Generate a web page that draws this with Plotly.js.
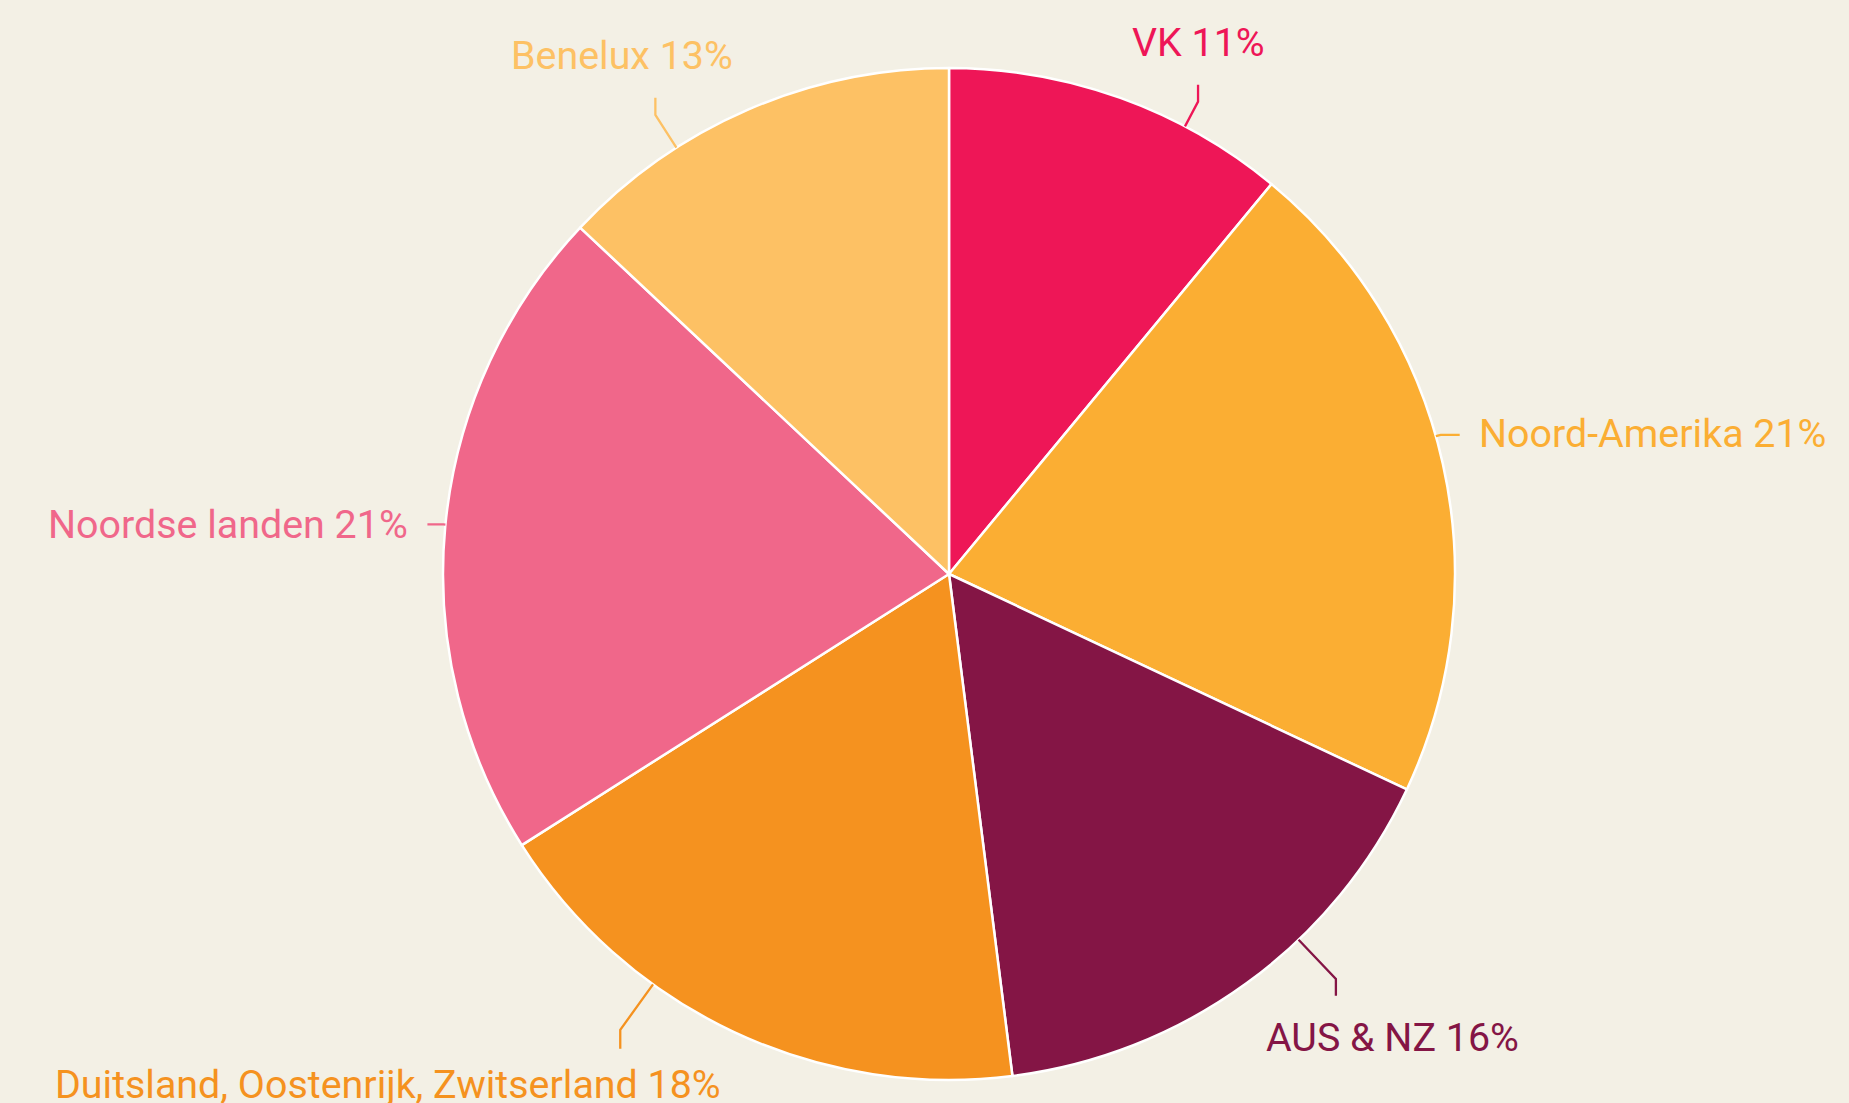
<!DOCTYPE html>
<html><head><meta charset="utf-8">
<script src="https://cdn.plot.ly/plotly-3.0.1.min.js"></script>
<style>html,body{margin:0;padding:0;background:#F3F0E5;}#chart{width:1849px;height:1103px;}</style>
</head><body><div id="chart"></div>
<script>
// ---- data ----
const regions = ['VK', 'Noord-Amerika', 'AUS & NZ', 'Duitsland, Oostenrijk, Zwitserland', 'Noordse landen', 'Benelux'];
const shares = [11, 21, 16, 18, 21, 13];
const colors = ['#EE1657', '#FBAE33', '#841545', '#F5921F', '#F0678A', '#FDC164'];

// ---- layout / style (positions, not data) ----
const W = 1849, H = 1103;
const CX = 949, CY = 574, R = 506;
const BG = '#F3F0E5';
const FONT = 'Roboto, "Noto Sans", sans-serif';
const FONT_SIZE = 39.4;
// per-label connector styling: shift of anchor angle from slice middle (deg), radial extension,
// tail direction & length, label offset from tail end (dx, dy to cap-centre) and anchor
const labelStyle = [
  {shift: 8.0,  ext: 28, tail: 'up',    len: 17, dx: 0,    dy: -42, xa: 'center'},
  {shift: -3.2, ext: 5,  tail: 'right', len: 19, dx: 17,   dy: -1,  xa: 'left'},
  {shift: -7.7, ext: 54, tail: 'down',  len: 17, dx: 57,   dy: 42,  xa: 'center'},
  {shift: 10.6, ext: 56, tail: 'down',  len: 19, dx: -232, dy: 36,  xa: 'center'},
  {shift: 0.2,  ext: 2,  tail: 'left',  len: 16, dx: -17,  dy: 0,   xa: 'right'},
  {shift: -9.2, ext: 39, tail: 'up',    len: 17, dx: -33,  dy: -42, xa: 'center'}
];

const px = x => x / W;
const py = y => 1 - y / H;

const total = shares.reduce((a, b) => a + b, 0);
let cum = 0;
const shapes = [], annotations = [];
shares.forEach((v, i) => {
  const mid = (cum + v / 2) / total * 360;
  cum += v;
  const s = labelStyle[i];
  const a = (mid + s.shift) * Math.PI / 180;
  const ux = Math.sin(a), uy = -Math.cos(a);
  const x0 = CX + R * ux, y0 = CY + R * uy;
  const x1 = CX + (R + s.ext) * ux, y1 = CY + (R + s.ext) * uy;
  let x2 = x1, y2 = y1;
  if (s.tail === 'up') y2 -= s.len;
  if (s.tail === 'down') y2 += s.len;
  if (s.tail === 'left') x2 -= s.len;
  if (s.tail === 'right') x2 += s.len;
  shapes.push({
    type: 'path', xref: 'paper', yref: 'paper',
    path: `M${px(x0)},${py(y0)} L${px(x1)},${py(y1)} L${px(x2)},${py(y2)}`,
    line: {color: colors[i], width: 2.3}
  });
  annotations.push({
    xref: 'paper', yref: 'paper',
    x: px(x2 + s.dx), y: py(y2 + s.dy),
    xanchor: s.xa, yanchor: 'middle',
    text: regions[i] + ' ' + v + '%',
    showarrow: false,
    font: {family: FONT, size: FONT_SIZE, color: colors[i]}
  });
});

const trace = {
  type: 'pie',
  labels: regions,
  values: shares,
  sort: false,
  direction: 'clockwise',
  rotation: 0,
  marker: {colors: colors, line: {color: '#FFFFFF', width: 2.5}},
  textinfo: 'none',
  hoverinfo: 'skip',
  showlegend: false,
  domain: {x: [px(CX - R), px(CX + R)], y: [py(CY + R), py(CY - R)]}
};

Plotly.newPlot('chart', [trace], {
  width: W, height: H,
  margin: {l: 0, r: 0, t: 0, b: 0},
  paper_bgcolor: BG, plot_bgcolor: BG,
  showlegend: false,
  shapes: shapes,
  annotations: annotations,
  font: {family: FONT}
}, {displayModeBar: false, staticPlot: true});
</script>
</body></html>
